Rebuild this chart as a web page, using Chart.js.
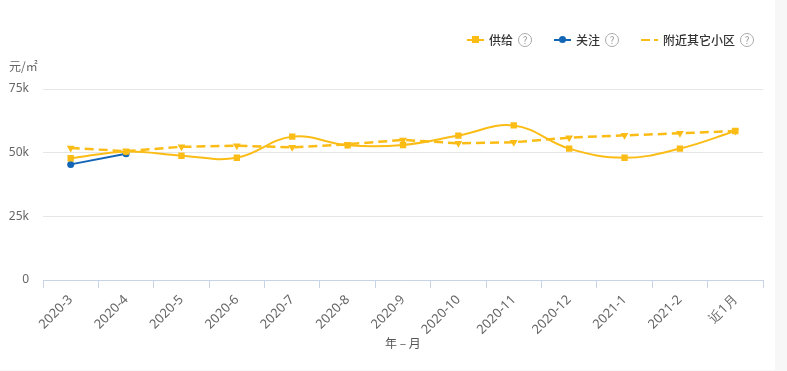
<!DOCTYPE html>
<html>
<head>
<meta charset="utf-8">
<script src="https://cdn.jsdelivr.net/npm/chart.js@4"></script>
<style>
  html, body { margin: 0; padding: 0; background: #f7f7f7; }
  body { width: 787px; height: 371px; overflow: hidden; font-family: "Noto Sans CJK SC", "Noto Sans", sans-serif; }
  #panel { position: absolute; left: 0; top: 0; width: 775px; height: 370px; background: #fff; }
  #chart { position: absolute; left: 0; top: 0; }
  .legend { position: absolute; top: 31px; left: 467px; width: 320px; display: flex; align-items: center; font-size: 12px; font-weight: 500; color: #333; white-space: nowrap; }
  .item { display: flex; flex: none; align-items: center; margin-right: 22px; }
  .sym { position: relative; flex: none; width: 17px; height: 10px; margin-right: 5px; }
  .sym .ln { position: absolute; left: 0; top: 4px; width: 17px; height: 2.5px; }
  .sym .mk { position: absolute; left: 5px; top: 1px; width: 7px; height: 7px; }
  .help { flex: none; width: 12px; height: 12px; border: 1px solid #aaa; border-radius: 50%; color: #999; font-size: 10px; font-weight: 400; line-height: 12px; text-align: center; margin-left: 5px; }
  .unit { position: absolute; left: 9px; top: 57px; font-size: 12px; color: #666; }
  .xname { position: absolute; left: 385px; top: 334px; font-size: 12px; color: #555; }
</style>
</head>
<body>
<div id="panel">
  <canvas id="chart" width="775" height="370"></canvas>
  <div class="unit">元/㎡</div>
  <div class="xname">年 – 月</div>
  <div class="legend">
    <div class="item"><span class="sym"><span class="ln" style="background:#fbbc16"></span><span class="mk" style="background:#fbbc16"></span></span>供给<span class="help">?</span></div>
    <div class="item"><span class="sym"><span class="ln" style="background:#1366b6"></span><span class="mk" style="background:#1366b6;border-radius:50%"></span></span>关注<span class="help">?</span></div>
    <div class="item"><span class="sym"><span class="ln" style="background:linear-gradient(90deg,#fbbc16 0 9px,transparent 9px 13px,#fbbc16 13px)"></span></span>附近其它小区<span class="help">?</span></div>
  </div>
</div>
<script>
const months = ['2020-3', '2020-4', '2020-5', '2020-6', '2020-7', '2020-8', '2020-9',
  '2020-10', '2020-11', '2020-12', '2021-1', '2021-2', '近1月'];
const supply = [47800, 50400, 48800, 48000, 56300, 52900, 53000, 56700, 60700, 51600, 48000, 51600, 58500];
const watch = [45400, 49600, null, null, null, null, null, null, null, null, null, null, null];
const nearby = [51800, 50600, 52300, 52700, 52100, 53300, 55000, 53700, 54100, 55900, 56800, 57600, 58500];
const yTicks = [0, 25000, 50000, 75000];

const yellow = '#fbbc16';
const blue = '#1366b6';

new Chart(document.getElementById('chart'), {
  type: 'line',
  data: {
    labels: months,
    datasets: [
      {
        label: '附近其它小区',
        data: nearby,
        borderColor: yellow,
        backgroundColor: yellow,
        borderWidth: 2.5,
        borderDash: [9, 5],
        tension: 0,
        pointStyle: 'triangle',
        rotation: 180,
        pointRadius: 4.5,
        pointBorderWidth: 0
      },
      {
        label: '供给',
        data: supply,
        borderColor: yellow,
        backgroundColor: yellow,
        borderWidth: 2,
        tension: 0.4,
        pointStyle: 'rect',
        pointRadius: 4.5,
        pointBorderWidth: 0
      },
      {
        label: '关注',
        data: watch,
        borderColor: blue,
        backgroundColor: blue,
        borderWidth: 2,
        tension: 0,
        pointStyle: 'circle',
        pointRadius: 3.5,
        pointBorderWidth: 0
      }
    ]
  },
  options: {
    responsive: false,
    animation: false,
    layout: { padding: { left: 0, right: 12, top: 89, bottom: 0 } },
    plugins: {
      legend: { display: false },
      tooltip: { enabled: false }
    },
    scales: {
      x: {
        offset: true,
        afterFit: s => { s.height = 90; },
        border: { color: '#c8d3e6', width: 1 },
        grid: {
          offset: true,
          drawOnChartArea: false,
          drawTicks: true,
          tickLength: 8,
          color: '#c8d3e6'
        },
        ticks: {
          minRotation: 45,
          maxRotation: 45,
          autoSkip: false,
          padding: 4,
          color: '#666',
          font: { family: 'Noto Sans', size: 13 }
        }
      },
      y: {
        min: 0,
        max: 75000,
        afterFit: s => { s.width = 43; },
        afterBuildTicks: s => { s.ticks = yTicks.map(v => ({ value: v })); },
        border: { display: false },
        grid: { color: '#e6e6e6', drawTicks: false },
        ticks: {
          padding: 14,
          color: '#666',
          font: { family: 'Noto Sans', size: 12 },
          callback: v => v === 0 ? '0' : (v / 1000) + 'k'
        }
      }
    }
  }
});
</script>
</body>
</html>
